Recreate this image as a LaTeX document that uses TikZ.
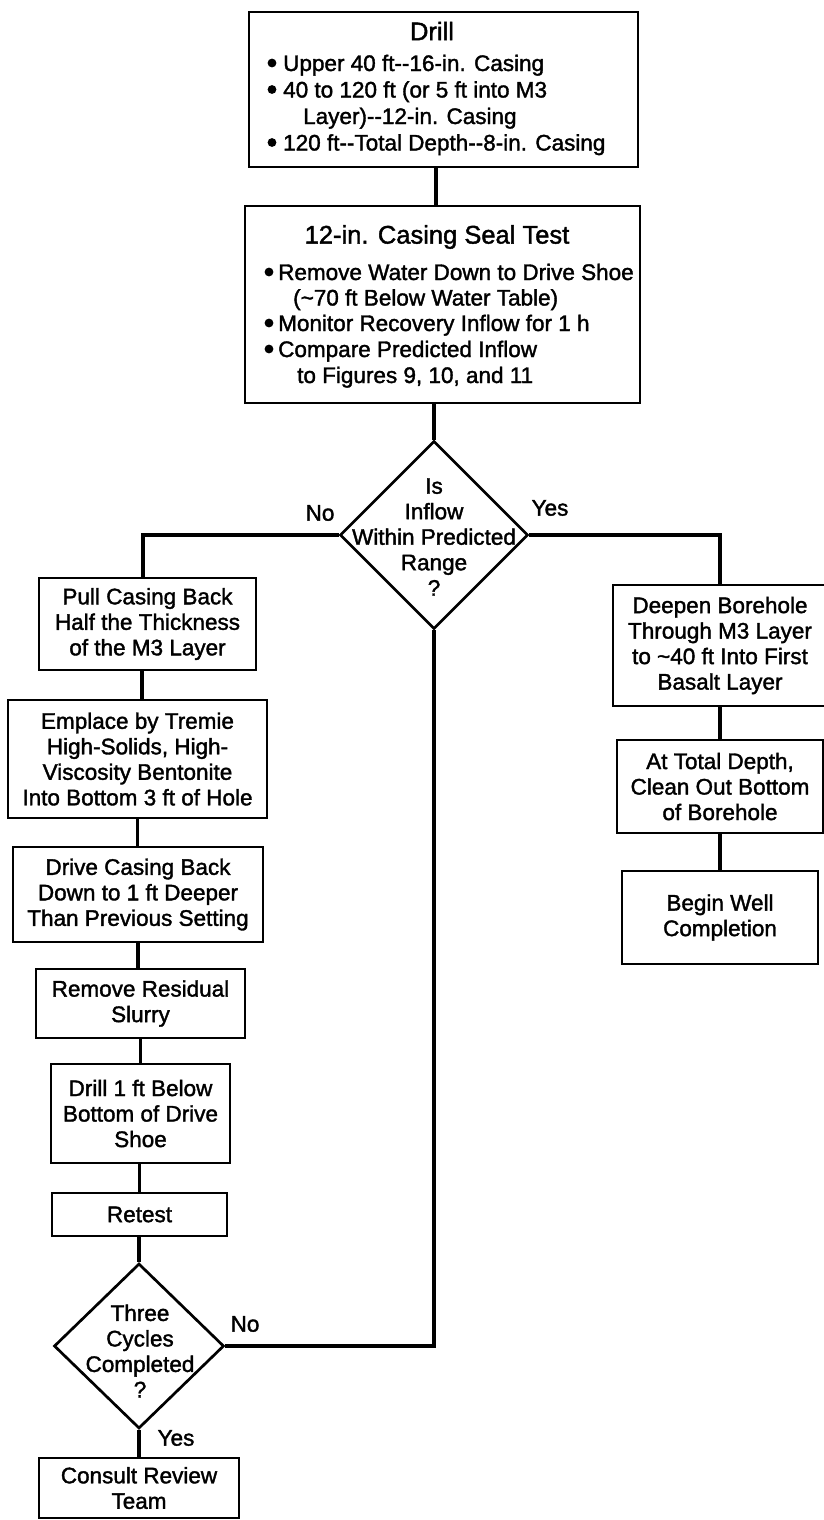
\documentclass[tikz,border=0pt]{standalone}
\usepackage{fontspec}
\setmainfont{Liberation Sans}[FakeBold=1.6]
\usetikzlibrary{shapes.geometric}
\begin{document}
\begin{tikzpicture}[x=1pt,y=-1pt,
  boxnode/.style={draw, line width=2.7pt, rectangle, inner sep=0pt, align=center,
    font=\fontsize{22.5}{25.5}\selectfont},
  txt/.style={font=\fontsize{22.5}{25.5}\selectfont, align=center, inner sep=0pt},
  ln/.style={font=\fontsize{22.5}{26.5}\selectfont, inner sep=0pt, anchor=base west},
  ttl/.style={font=\fontsize{25.5}{30}\selectfont, inner sep=0pt},
  conn/.style={line width=3.8pt},
  dia/.style={draw, diamond, line width=2.7pt, inner sep=0pt},
  bul/.style={fill=black},
]
\useasboundingbox (0,0) rectangle (823,1520);

% top boxes
\node[boxnode, minimum width=389pt, minimum height=155pt] (drill) at (443.5,89.5) {};
\node[ttl] (drillt) at (432,31) {Drill};
\node[ln] (dl1) at (283,71) {Upper 40 ft-{}-16-in. Casing};
\node[ln] (dl2) at (283,97.5) {40 to 120 ft (or 5 ft into M3};
\node[ln] (dl3) at (303,124) {Layer)-{}-12-in. Casing};
\node[ln] (dl4) at (283,150.5) {120 ft-{}-Total Depth-{}-8-in. Casing};
\fill[bul] (272,63) circle (4.4pt);
\fill[bul] (272,89.5) circle (4.4pt);
\fill[bul] (272,142.5) circle (4.4pt);

\node[boxnode, minimum width=395pt, minimum height=197pt] (seal) at (442.5,304.5) {};
\node[ttl] (sealt) at (437,237) {12-in. Casing Seal Test};
\node[ln] (sl1) at (278,280) {Remove Water Down to Drive Shoe};
\node[ln] (sl2) at (293,305.5) {(\textasciitilde 70 ft Below Water Table)};
\node[ln] (sl3) at (278,331) {Monitor Recovery Inflow for 1 h};
\node[ln] (sl4) at (278,357) {Compare Predicted Inflow};
\node[ln] (sl5) at (297,383) {to Figures 9, 10, and 11};
\fill[bul] (269,272) circle (4.4pt);
\fill[bul] (269,323) circle (4.4pt);
\fill[bul] (269,349) circle (4.4pt);

% decision 1
\node[dia, minimum width=188pt, minimum height=188pt] (d1) at (434,535) {};
\node[txt] (d1t) at (434,537) {Is\\Inflow\\Within Predicted\\Range\\?};
\node[txt] (no1) at (320,513) {No};
\node[txt] (yes1) at (550,508) {Yes};

% left column
\node[boxnode, minimum width=217pt, minimum height=92pt] (pull) at (147.5,624) {Pull Casing Back\\Half the Thickness\\of the M3 Layer};
\node[boxnode, minimum width=259pt, minimum height=118pt] (emplace) at (137.5,759) {Emplace by Tremie\\High-Solids, High-\\Viscosity Bentonite\\Into Bottom 3 ft of Hole};
\node[boxnode, minimum width=250pt, minimum height=95pt] (drive) at (138,894.5) {Drive Casing Back\\Down to 1 ft Deeper\\Than Previous Setting};
\node[boxnode, minimum width=209pt, minimum height=69pt] (remove) at (140.5,1003.5) {Remove Residual\\Slurry};
\node[boxnode, minimum width=179pt, minimum height=99pt] (drillone) at (140.5,1113.5) {Drill 1 ft Below\\Bottom of Drive\\Shoe};
\node[boxnode, minimum width=175pt, minimum height=43pt] (retest) at (139.5,1214.5) {Retest};
\node[dia, minimum width=170pt, minimum height=165pt] (d2) at (139,1346) {};
\node[txt] (d2t) at (140,1351) {Three\\Cycles\\Completed\\?};
\node[txt] (no2) at (245,1324) {No};
\node[txt] (yes2) at (176,1438) {Yes};
\node[boxnode, minimum width=200pt, minimum height=60pt] (consult) at (139,1488) {Consult Review\\Team};

% right column
\node[boxnode, minimum width=214pt, minimum height=121pt] (deepen) at (720,645.5) {Deepen Borehole\\Through M3 Layer\\to \textasciitilde 40 ft Into First\\Basalt Layer};
\node[boxnode, minimum width=206pt, minimum height=93pt] (total) at (720,786.5) {At Total Depth,\\Clean Out Bottom\\of Borehole};
\node[boxnode, minimum width=196pt, minimum height=93pt] (begin) at (720,917.5) {Begin Well\\Completion};

% connectors
\draw[conn] ([xshift=-7.5pt]drill.south) -- ([xshift=-7.5pt]drill.south |- seal.north);
\draw[conn] (d1.north |- seal.south) -- (d1.north);
\draw[conn] (d1.west) -| ([xshift=-4.5pt]pull.north);
\draw[conn] (d1.east) -| (deepen.north);
\draw[conn] ([xshift=-5.5pt]pull.south) -- ([xshift=-5.5pt]pull.south |- emplace.north);
\draw[conn] (emplace.south) -- (emplace.south |- drive.north);
\draw[conn] (drive.south) -- (drive.south |- remove.north);
\draw[conn] (drillone.north |- remove.south) -- (drillone.north);
\draw[conn] (retest.north |- drillone.south) -- (retest.north);
\draw[conn] (d2.north |- retest.south) -- (d2.north);
\draw[conn] (d2.south) -- (d2.south |- consult.north);
\draw[conn] (d2.east) -| (d1.south);
\draw[conn] (deepen.south) -- (total.north);
\draw[conn] (total.south) -- (begin.north);
\end{tikzpicture}
\end{document}
